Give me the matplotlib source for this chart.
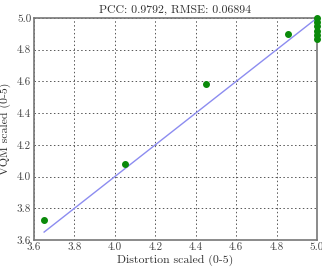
import numpy as np
import matplotlib
matplotlib.use('Agg')
from matplotlib import pyplot as plt

plt.rcParams['font.family'] = 'serif'
plt.rcParams['font.serif'] = ['cmr10', 'DejaVu Serif']
plt.rcParams['axes.formatter.use_mathtext'] = True

distortion = [3.65, 4.05, 4.45, 4.857, 5.0, 5.0, 5.0, 5.0, 5.0, 5.0]
vqm = [3.725, 4.08, 4.585, 4.90, 5.0, 4.975, 4.95, 4.92, 4.89, 4.87]
title = 'PCC: 0.9792, RMSE: 0.06894'

fig = plt.figure(figsize=(3.22, 2.68), dpi=100)
ax = fig.add_axes([0.1056, 0.1045, 0.879, 0.8285])

lo, hi = min(distortion), max(distortion)
ax.plot([lo, hi], [lo, hi], color='#8c8cf0', lw=1.0, zorder=2)
ax.scatter(distortion, vqm, s=16, color='#0a8a0a', zorder=3, clip_on=False)

ax.set_xlim(3.6, 5.0)
ax.set_ylim(3.6, 5.0)
ax.set_xticks(np.arange(3.6, 5.01, 0.2))
ax.set_yticks(np.arange(3.6, 5.01, 0.2))
ax.xaxis.set_major_formatter(matplotlib.ticker.FormatStrFormatter('%.1f'))
ax.yaxis.set_major_formatter(matplotlib.ticker.FormatStrFormatter('%.1f'))
ax.grid(True, color='#555555', linestyle=(0, (1.5, 2.5)), lw=0.7)
ax.tick_params(axis='both', labelsize=8, length=0, pad=2, colors='#444444')
for s in ax.spines.values():
    s.set_color('#777777')
    s.set_linewidth(1.2)

ax.set_xlabel('Distortion scaled (0-5)', fontsize=8.5, color='#333333', labelpad=2)
ax.set_ylabel('VQM scaled (0-5)', fontsize=8.5, color='#333333', labelpad=4)
ax.set_title(title, fontsize=8.5, color='#333333', pad=4)

fig.savefig('out.png', dpi=100)
